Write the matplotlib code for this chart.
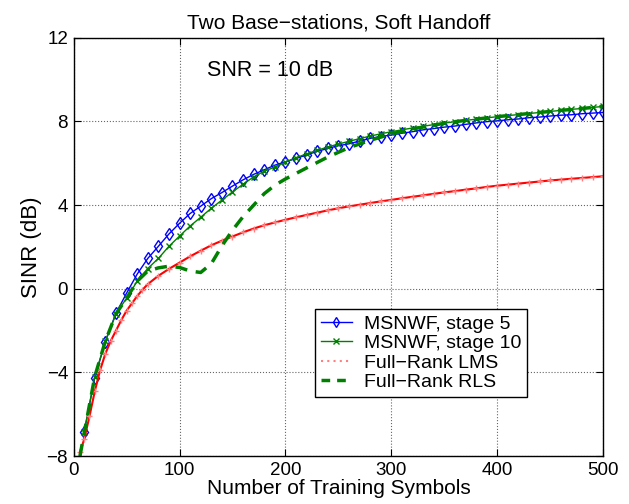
import matplotlib
matplotlib.use("Agg")
import matplotlib.pyplot as plt
from matplotlib.lines import Line2D
import numpy as np

plt.rcParams['font.family'] = ['Liberation Sans', 'DejaVu Sans']

# MSNWF, stage 5 and stage 10 (samples every 10 symbols)
x_msnwf = np.arange(10, 501, 10)
sinr_stage5 = [-6.84, -4.25, -2.52, -1.17, -0.21, 0.70, 1.45, 2.03, 2.62, 3.13,
               3.60, 3.95, 4.31, 4.60, 4.91, 5.21, 5.47, 5.69, 5.91, 6.07,
               6.23, 6.40, 6.57, 6.71, 6.84, 6.93, 7.06, 7.19, 7.28, 7.35,
               7.44, 7.51, 7.60, 7.66, 7.73, 7.78, 7.86, 7.93, 7.99, 8.03,
               8.08, 8.12, 8.18, 8.21, 8.26, 8.30, 8.32, 8.37, 8.40, 8.43]
sinr_stage10 = [-6.84, -4.20, -2.50, -1.20, -0.45, 0.36, 0.97, 1.45, 2.03, 2.52,
                3.00, 3.42, 3.85, 4.24, 4.63, 5.00, 5.35, 5.62, 5.82, 6.05,
                6.27, 6.45, 6.62, 6.78, 6.92, 7.05, 7.18, 7.30, 7.41, 7.51,
                7.60, 7.69, 7.77, 7.85, 7.92, 7.99, 8.05, 8.11, 8.17, 8.23,
                8.28, 8.33, 8.38, 8.43, 8.48, 8.53, 8.58, 8.62, 8.67, 8.72]

# Full-rank LMS
x_lms = [6, 10, 15, 20, 25, 30, 35, 40, 45, 50, 55, 60, 65, 70, 80, 90, 100,
         110, 120, 130, 140, 150, 160, 170, 180, 190, 200, 210, 220, 230, 240,
         250, 260, 270, 280, 290, 300, 310, 320, 330, 340, 350, 360, 370, 380,
         390, 400, 410, 420, 430, 440, 450, 460, 470, 480, 490, 500]
sinr_lms = [-7.8, -7.2, -6.1, -4.9, -3.9, -3.1, -2.5, -2.0, -1.5, -1.05, -0.7,
            -0.35, -0.05, 0.22, 0.62, 0.95, 1.25, 1.55, 1.82, 2.08, 2.30, 2.50,
            2.70, 2.88, 3.04, 3.17, 3.30, 3.42, 3.53, 3.64, 3.75, 3.85, 3.94,
            4.02, 4.10, 4.18, 4.25, 4.33, 4.40, 4.47, 4.54, 4.61, 4.67, 4.74,
            4.80, 4.87, 4.93, 4.98, 5.03, 5.08, 5.13, 5.18, 5.22, 5.26, 5.30,
            5.34, 5.38]

# Full-rank RLS
x_rls = [6, 10, 20, 30, 40, 50, 60, 70, 80, 90, 100, 110, 120, 130, 140, 150,
         160, 170, 180, 190, 200, 220, 240, 260, 280, 300, 320, 340, 360, 380,
         400, 420, 440, 460, 480, 500]
sinr_rls = [-8.0, -6.9, -4.2, -2.5, -1.2, -0.45, 0.36, 0.85, 1.00, 1.08, 1.02,
            0.85, 0.78, 1.20, 2.05, 2.80, 3.45, 4.00, 4.55, 4.95, 5.25, 5.78,
            6.30, 6.75, 7.10, 7.40, 7.64, 7.83, 7.99, 8.11, 8.23, 8.33, 8.43,
            8.53, 8.62, 8.72]

fig = plt.figure(figsize=(6.29, 5.04), dpi=100)
ax = fig.add_axes([0.117, 0.095, 0.842, 0.83])

ax.plot(x_msnwf, sinr_stage5, color="blue", linewidth=1, marker="d",
        markersize=6, markerfacecolor="none", markeredgewidth=1)
ax.plot(x_msnwf, sinr_stage10, color="green", linewidth=1, marker="x",
        markersize=5, markeredgewidth=1)
ax.plot(x_lms, sinr_lms, color="red", linewidth=1.5)
ax.plot(x_lms, sinr_lms, color="#ff8080", linestyle="none", marker="+",
        markersize=5, markeredgewidth=1)
ax.plot(x_rls, sinr_rls, color="green", linewidth=2.5, linestyle=(0, (3.5, 2.5)))

ax.set_xlim(0, 500)
ax.set_ylim(-8, 12)
ax.set_xticks(np.arange(0, 501, 100))
ax.set_yticks(np.arange(-8, 13, 4))
ax.tick_params(direction="in", labelsize=13.5, length=5, top=True, right=True,
               pad=4)
ax.grid(True, linestyle=":", color="black", linewidth=0.8, alpha=0.6)
for s in ax.spines.values():
    s.set_linewidth(1)

ax.set_title("Two Base\u2212stations, Soft Handoff", fontsize=15, pad=7)
ax.set_xlabel("Number of Training Symbols", fontsize=15, labelpad=0)
ax.set_ylabel("SINR (dB)", fontsize=16, labelpad=3)
ax.text(126, 10.45, "SNR = 10 dB", fontsize=15.5, va="center")

handles = [
    Line2D([], [], color="blue", linewidth=1, marker="d", markersize=5,
           markerfacecolor="none"),
    Line2D([], [], color="green", linewidth=1, marker="x", markersize=4),
    Line2D([], [], color="#ff8080", linewidth=1.5, linestyle=(0, (1, 2))),
    Line2D([], [], color="green", linewidth=2.5, linestyle=(0, (2.5, 2))),
]
labels = ["MSNWF, stage 5", "MSNWF, stage 10", "Full\u2212Rank LMS",
          "Full\u2212Rank RLS"]
leg = ax.legend(handles, labels, loc="lower left", bbox_to_anchor=(0.456, 0.141),
                borderaxespad=0, fontsize=14, fancybox=False, framealpha=1,
                edgecolor="black", handlelength=1.6, labelspacing=0.1,
                borderpad=0.3, handletextpad=0.6)
leg.get_frame().set_linewidth(1)

fig.savefig("out.png", dpi=100)
